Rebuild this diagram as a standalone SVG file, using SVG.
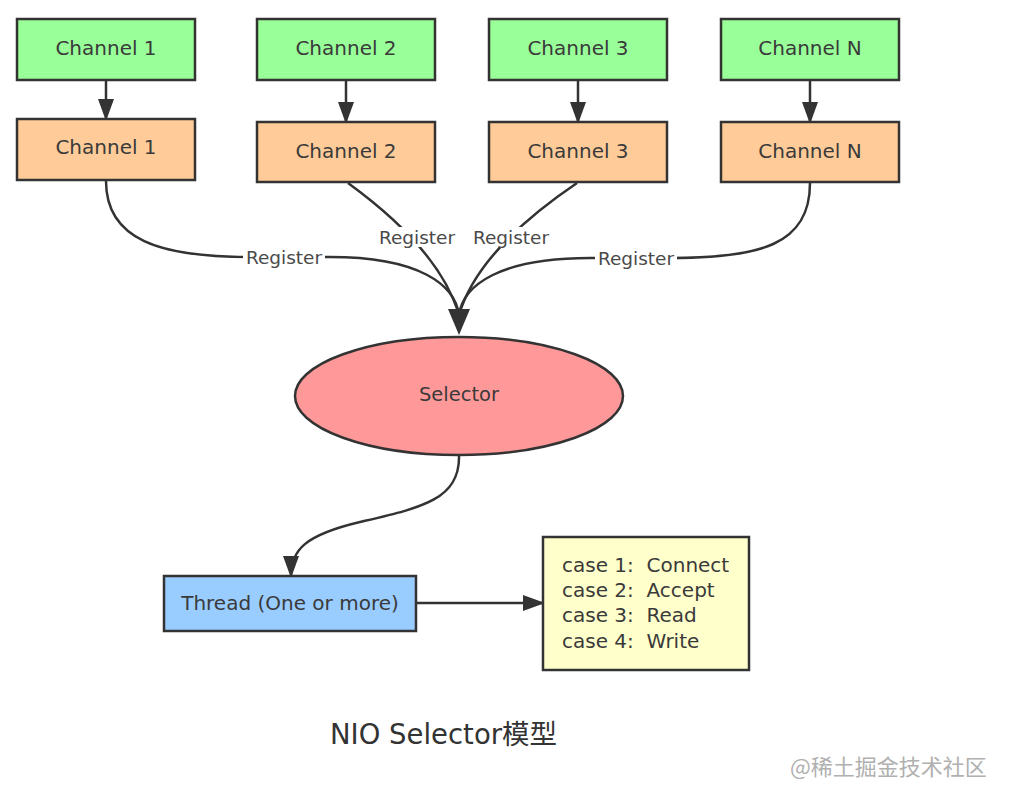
<svg xmlns="http://www.w3.org/2000/svg" width="1019" height="787" viewBox="0 0 1019 787">
<style>
.box{stroke:#333;stroke-width:2.5}
.g{fill:#99ff99}
.o{fill:#ffcc99}
.t{font-family:"DejaVu Sans","Liberation Sans",sans-serif;fill:#3a3a3a;text-anchor:middle;dominant-baseline:central}
.lbl{font-family:"DejaVu Sans","Liberation Sans",sans-serif;fill:#4a4a4a;font-size:18.5px;text-anchor:middle;dominant-baseline:central}
.line{fill:none;stroke:#333;stroke-width:2.5}
.case{font-family:"DejaVu Sans","Liberation Sans",sans-serif;fill:#3a3a3a;font-size:20px;white-space:pre}
</style>
<defs>
<marker id="ah" markerUnits="userSpaceOnUse" viewBox="0 0 22 16" refX="20" refY="8" markerWidth="22" markerHeight="16" orient="auto">
<path d="M0,0 L22,8 L0,16 z" fill="#333"/>
</marker>
</defs>
<rect width="1019" height="787" fill="#fff"/>

<g id="connectors">
<line class="line" x1="106" y1="80" x2="106" y2="119" marker-end="url(#ah)"/>
<line class="line" x1="346" y1="80" x2="346" y2="122" marker-end="url(#ah)"/>
<line class="line" x1="578" y1="80" x2="578" y2="122" marker-end="url(#ah)"/>
<line class="line" x1="810" y1="80" x2="810" y2="122" marker-end="url(#ah)"/>

<path class="line" d="M106,181 C106,240 160,257 250,257 L330,257 C420,257 455,285 459,315"/>
<path class="line" d="M348,183 Q440,250 459,315"/>
<path class="line" d="M577,183 Q478,250 459,315"/>
<path class="line" d="M810,183 C810,245 760,258 670,258 L590,258 C500,258 463,285 459,315"/>
<polygon points="448,309 470,309 459,335" fill="#333"/>

<rect x="243" y="247" width="82" height="20" fill="#fff"/>
<text class="lbl" x="284" y="257">Register</text>
<rect x="376" y="227" width="82" height="20" fill="#fff"/>
<text class="lbl" x="417" y="237">Register</text>
<rect x="470" y="227" width="82" height="20" fill="#fff"/>
<text class="lbl" x="511" y="237">Register</text>
<rect x="595" y="248" width="82" height="20" fill="#fff"/>
<text class="lbl" x="636" y="258">Register</text>

<path class="line" d="M459,456 C460,500 420,508 360,522 C305,535 291,550 291,576" marker-end="url(#ah)"/>
<line class="line" x1="417" y1="603" x2="543" y2="603" marker-end="url(#ah)"/>
</g>

<g id="ch1-top"><rect class="box g" x="17" y="19" width="178" height="61"/><text class="t" x="106" y="48" font-size="20">Channel 1</text></g>
<g id="ch2-top"><rect class="box g" x="257" y="19" width="178" height="61"/><text class="t" x="346" y="48" font-size="20">Channel 2</text></g>
<g id="ch3-top"><rect class="box g" x="489" y="19" width="178" height="61"/><text class="t" x="578" y="48" font-size="20">Channel 3</text></g>
<g id="chN-top"><rect class="box g" x="721" y="19" width="178" height="61"/><text class="t" x="810" y="48" font-size="20">Channel N</text></g>

<g id="ch1"><rect class="box o" x="17" y="119" width="178" height="61"/><text class="t" x="106" y="147" font-size="20">Channel 1</text></g>
<g id="ch2"><rect class="box o" x="257" y="122" width="178" height="60"/><text class="t" x="346" y="151" font-size="20">Channel 2</text></g>
<g id="ch3"><rect class="box o" x="489" y="122" width="178" height="60"/><text class="t" x="578" y="151" font-size="20">Channel 3</text></g>
<g id="chN"><rect class="box o" x="721" y="122" width="178" height="60"/><text class="t" x="810" y="151" font-size="20">Channel N</text></g>

<g id="selector"><ellipse class="box" cx="459" cy="396" rx="164" ry="59" fill="#ff9999"/><text class="t" x="459" y="394" font-size="19.5">Selector</text></g>

<g id="thread"><rect class="box" x="164" y="576" width="252" height="55" fill="#99ccff"/><text class="t" x="290" y="603" font-size="20">Thread (One or more)</text></g>

<g id="cases"><rect class="box" x="543" y="537" width="206" height="133" fill="#ffffcc"/>
<text class="case" x="562" y="572" xml:space="preserve">case 1:  Connect</text>
<text class="case" x="562" y="597" xml:space="preserve">case 2:  Accept</text>
<text class="case" x="562" y="622" xml:space="preserve">case 3:  Read</text>
<text class="case" x="562" y="648" xml:space="preserve">case 4:  Write</text>
</g>

<text x="330" y="744" font-family="'DejaVu Sans','Noto Sans CJK SC',sans-serif" font-size="27.5" fill="#333">NIO Selector模型</text>
<text x="790" y="775" font-family="'Noto Sans CJK SC','DejaVu Sans',sans-serif" font-size="22" fill="#b0b0b0">@稀土掘金技术社区</text>
</svg>
